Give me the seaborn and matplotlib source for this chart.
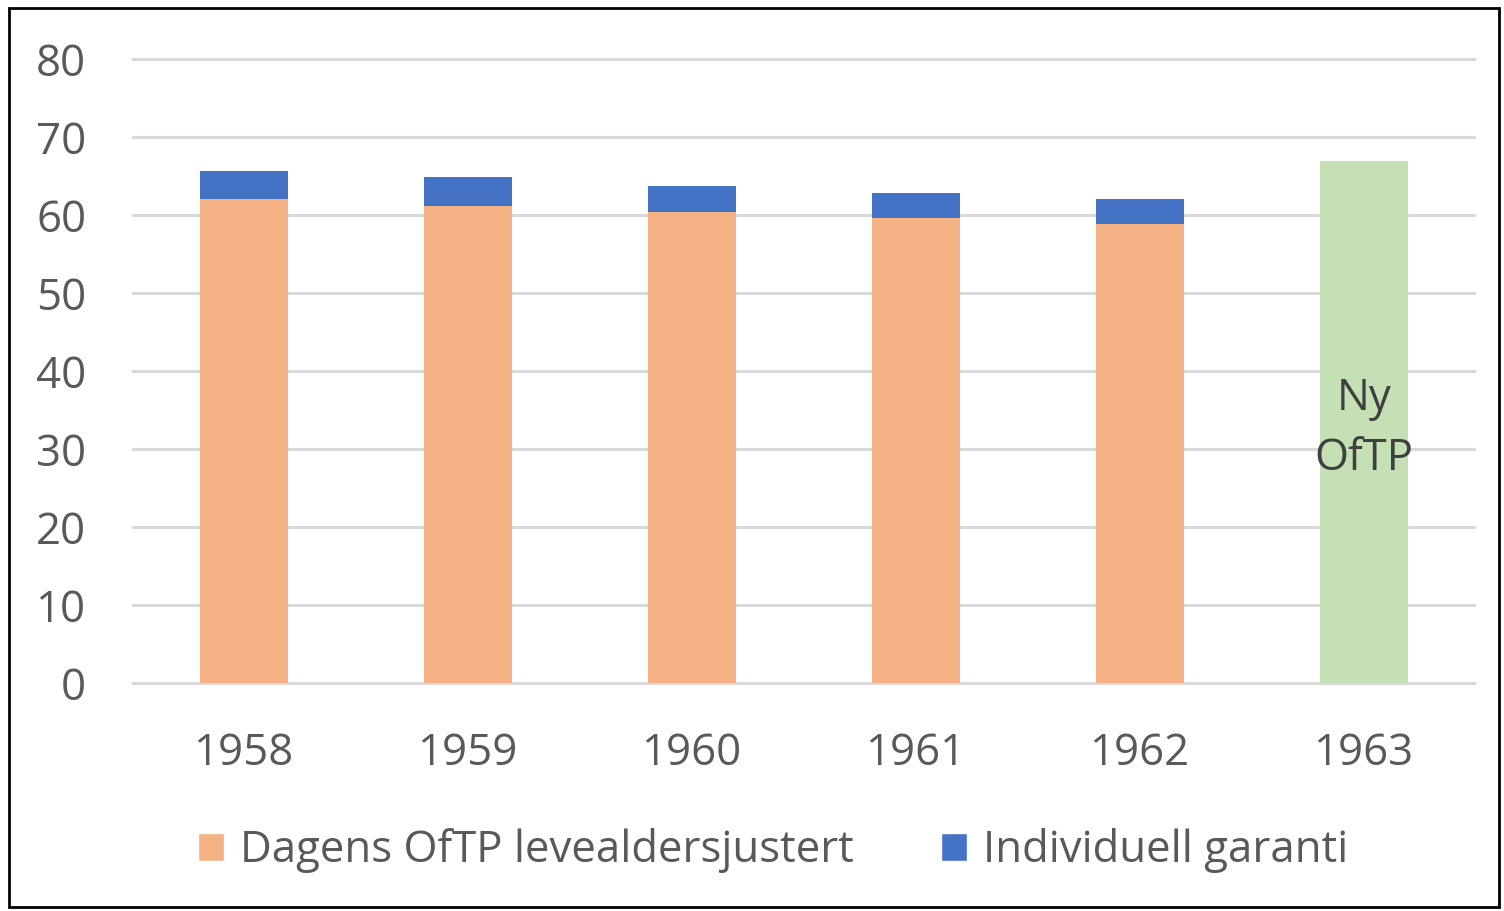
import pandas as pd
import matplotlib.pyplot as plt
import seaborn as sns
from matplotlib.patches import Patch, Rectangle

# Values
years = ["1958", "1959", "1960", "1961", "1962", "1963"]
dagens_oftp = [62.0, 61.2, 60.4, 59.6, 58.8, None]
individuell_garanti = [3.7, 3.7, 3.3, 3.2, 3.2, None]
ny_oftp = [None, None, None, None, None, 66.9]

ORANGE = "#f4b183"
BLUE = "#4472c4"
GREEN = "#c5e0b4"
TEXT = "#595959"
FS = 31.5

df = pd.DataFrame({
    "year": years,
    "dagens": dagens_oftp,
    "garanti": individuell_garanti,
    "ny": ny_oftp,
})
df["total"] = df["dagens"] + df["garanti"]

sns.set_style("white")
plt.rcParams["font.family"] = ["Open Sans", "DejaVu Sans"]

fig = plt.figure(figsize=(15.04, 9.11), dpi=100)
ax = fig.add_axes([0.0878, 0.246, 0.8936, 0.6935])

bw = 0.39
kw = dict(order=years, width=bw, errorbar=None, ax=ax, saturation=1, linewidth=0)
sns.barplot(data=df, x="year", y="total", color=BLUE, zorder=3, **kw)
sns.barplot(data=df, x="year", y="dagens", color=ORANGE, zorder=4, **kw)
sns.barplot(data=df, x="year", y="ny", color=GREEN, zorder=3, **kw)

ax.text(5, 32.6, "Ny\nOfTP", ha="center", va="center", fontsize=FS,
        color="#404040", linespacing=1.48, zorder=5)

ax.set_ylim(-0.5, 80.5)
ax.set_xlim(-0.5, 5.5)
ax.set_yticks(range(0, 81, 10))
ax.yaxis.grid(True, color="#d9d9d9", linewidth=2.2, zorder=0)
ax.set_axisbelow(True)
for s in ax.spines.values():
    s.set_visible(False)
ax.tick_params(axis="both", length=0, labelsize=FS, labelcolor=TEXT)
ax.tick_params(axis="y", pad=33)
ax.tick_params(axis="x", pad=32)
ax.set_xlabel("")
ax.set_ylabel("")

handles = [Patch(facecolor=ORANGE, label="Dagens OfTP levealdersjustert"),
           Patch(facecolor=BLUE, label="Individuell garanti")]
fig.legend(handles=handles, loc="center", bbox_to_anchor=(0.514, 0.066),
           ncol=2, frameon=False, fontsize=FS, labelcolor=TEXT,
           handlelength=0.6, handleheight=0.6, handletextpad=0.36,
           columnspacing=2.0)

fig.patches.append(Rectangle((0.006, 0.004), 0.991, 0.987, transform=fig.transFigure,
                             fill=False, edgecolor="black", linewidth=2))

fig.savefig("out.png", dpi=100)
